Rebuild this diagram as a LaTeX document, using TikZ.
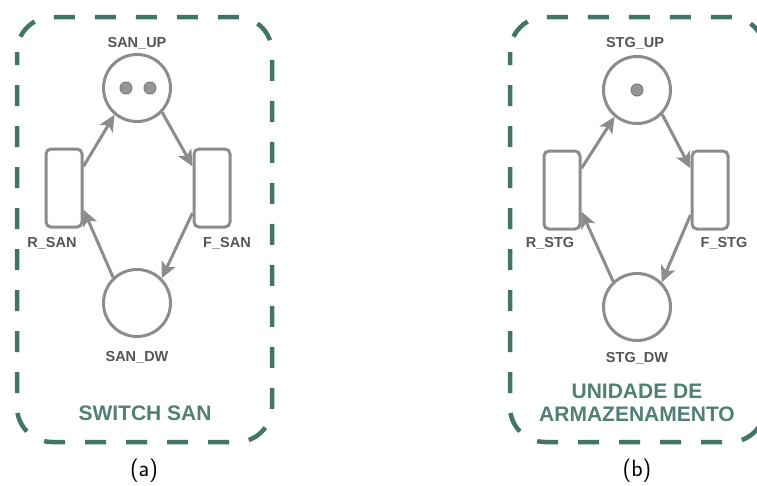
\documentclass[tikz,border=0pt]{standalone}
\usepackage{fontspec}
\newfontfamily\labelfont{Liberation Sans}
\usetikzlibrary{arrows.meta}

\definecolor{netgray}{RGB}{140,140,140}
\definecolor{tokgray}{RGB}{150,150,150}
\definecolor{tokedge}{RGB}{125,125,125}
\definecolor{lblgray}{RGB}{85,85,85}
\definecolor{boxgreen}{RGB}{66,116,104}
\definecolor{titlegreen}{RGB}{80,128,116}

\begin{document}
\begin{tikzpicture}[x=1pt,y=-1pt,
  place/.style={circle, draw=netgray, line width=3pt, minimum size=67pt, inner sep=0pt},
  trans/.style={rectangle, rounded corners=5pt, draw=netgray, line width=3pt,
                minimum width=36pt, minimum height=78pt, inner sep=0pt},
  token/.style={circle, fill=tokgray, draw=tokedge, line width=1pt, minimum size=12pt, inner sep=0pt},
  arc/.style={draw=netgray, line width=3pt, -{Stealth[length=16pt,width=15pt,inset=4pt]}},
  lbl/.style={font=\labelfont\bfseries\fontsize{14.5}{17}\selectfont, text=lblgray, inner sep=0pt},
  group/.style={draw=boxgreen, line width=4.5pt, dash pattern=on 21pt off 20pt, rounded corners=35pt},
  grouptitle/.style={font=\labelfont\bfseries\fontsize{21}{23}\selectfont, text=titlegreen,
                     align=center, inner sep=0pt},
  subcap/.style={font=\sffamily\fontsize{23.5}{28}\selectfont, inner sep=0pt}
]
\useasboundingbox (0,0) rectangle (757,485);
\clip (0,0) rectangle (757,485);

% ---------- (a) switch SAN ----------
\draw[group, dash phase=8pt] (17,17) rectangle (272,442);

\node[place] (sanup) at (137,88) {};
\node[token] (sanup1) at (126,88) {};
\node[token] (sanup2) at (150,88) {};
\node[trans] (rsan) at (64,188) {};
\node[trans] (fsan) at (212,188) {};
\node[place] (sandw) at (137,303) {};

\node[lbl] (lsanup) at (137,43) {SAN\_UP};
\node[lbl] (lrsan) at (52,243) {R\_SAN};
\node[lbl] (lfsan) at (227,243) {F\_SAN};
\node[lbl] (lsandw) at (137,357) {SAN\_DW};

\draw[arc] (rsan.48) -- (sanup.230);
\draw[arc] (sanup.316) -- (fsan.132);
\draw[arc] (fsan.232) -- (sandw.45);
\draw[arc] (sandw.133) -- (rsan.312);

\node[grouptitle] (tsan) at (145,413) {SWITCH SAN};
\node[subcap] (capa) at (144,471) {(a)};

% ---------- (b) storage unit ----------
\draw[group, dash phase=8pt] (510,17) rectangle (765,442);

\node[place] (stgup) at (637,90) {};
\node[token] (stgup1) at (637,90) {};
\node[trans] (rstg) at (562,190) {};
\node[trans] (fstg) at (710,190) {};
\node[place] (stgdw) at (637,307) {};

\node[lbl] (lstgup) at (635,43) {STG\_UP};
\node[lbl] (lrstg) at (550,243) {R\_STG};
\node[lbl] (lfstg) at (724,243) {F\_STG};
\node[lbl] (lstgdw) at (637,358) {STG\_DW};

\draw[arc] (rstg.48) -- (stgup.230);
\draw[arc] (stgup.316) -- (fstg.132);
\draw[arc] (fstg.232) -- (stgdw.45);
\draw[arc] (stgdw.133) -- (rstg.312);

\node[grouptitle] (tstg) at (637,403) {UNIDADE DE\\ARMAZENAMENTO};
\node[subcap] (capb) at (637,471) {(b)};
\end{tikzpicture}
\end{document}
